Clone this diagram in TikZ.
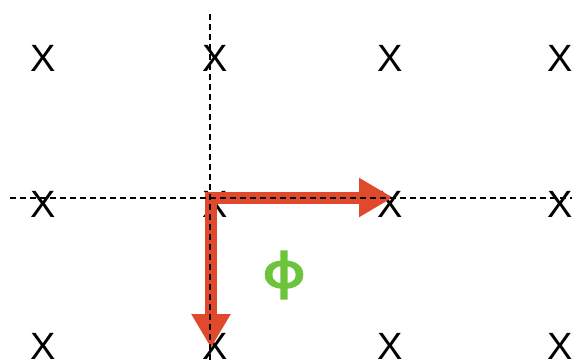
\documentclass[tikz,border=0pt]{standalone}
\usepackage{fontspec}
\setmainfont{Liberation Sans}
\newfontfamily\phifont[FakeBold=5,FakeStretch=1.25]{Noto Sans}
\usetikzlibrary{arrows.meta}
\definecolor{arrowred}{HTML}{E0492C}
\definecolor{phigreen}{HTML}{6CC43C}
\tikzset{
  xmark/.style={inner sep=0pt, font=\fontsize{38}{38}\selectfont},
  guide/.style={black, line width=1.1pt, dash pattern=on 6pt off 4pt},
  redarrow/.style={arrowred, line width=12pt, -{Triangle[width=37pt,length=34pt]}},
}
\begin{document}
\begin{tikzpicture}[x=1pt,y=-1pt]
\useasboundingbox (0,0) rectangle (576,364);
% grid of X marks
\foreach \c/\xx in {1/43,2/215,3/390,4/560}{
  \foreach \r/\yy in {1/58,2/204,3/346}{
    \node[xmark] (x\r\c) at (\xx,\yy) {X};
  }
}
% red arrows
\coordinate (oh) at (205,197.5);
\coordinate (ov) at (211,191.5);
\coordinate (th) at (393,197.5);
\coordinate (tv) at (211,348);
\draw[redarrow] (oh) -- (th);
\draw[redarrow] (ov) -- (tv);
% dashed guides
\coordinate (vtop) at (210,14);
\coordinate (vbot) at (210,362);
\coordinate (hl) at (10,198);
\coordinate (hr) at (572,198);
\draw[guide] (vtop) -- (vbot);
\draw[guide] (hl) -- (hr);
% phi label
\node[phigreen, inner sep=0pt, font=\phifont\fontsize{47}{47}\selectfont] (phi) at (284,275) {φ};
\end{tikzpicture}
\end{document}
